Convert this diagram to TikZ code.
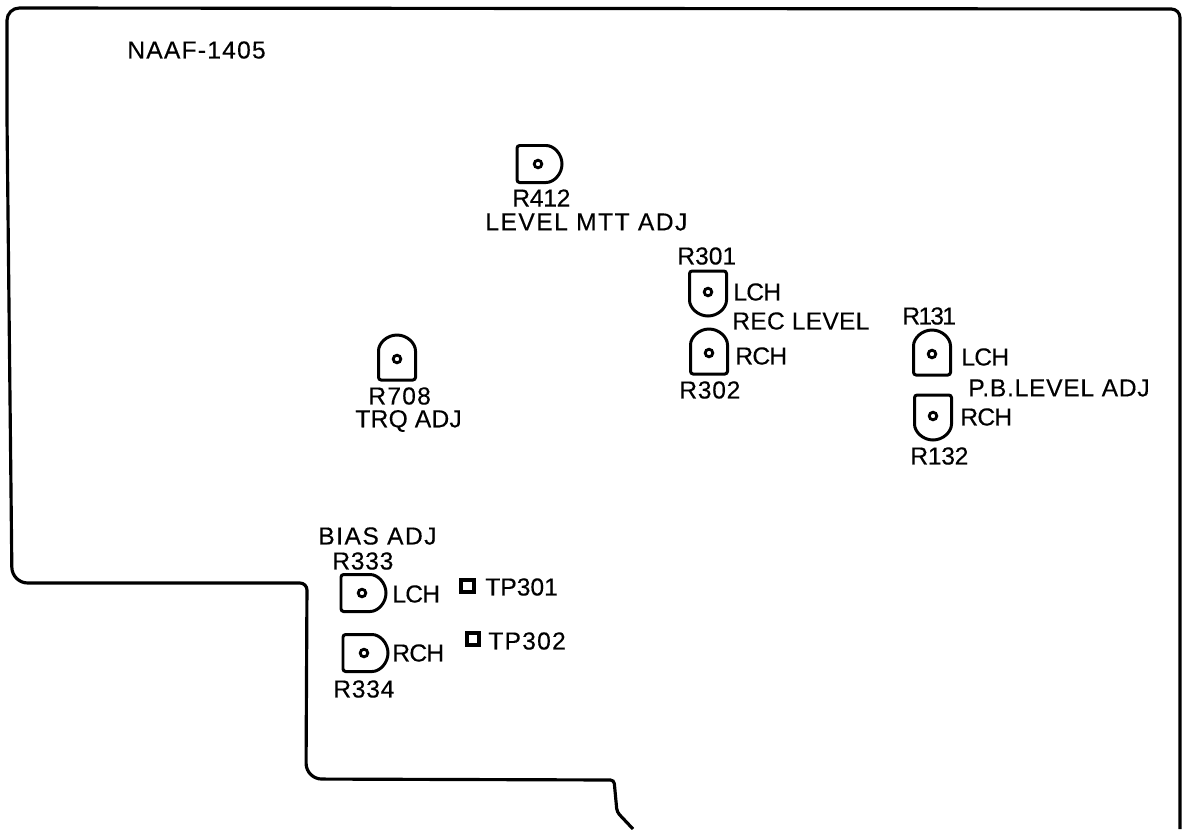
\documentclass[tikz,border=0pt]{standalone}
\usepackage{fontspec}
\setmainfont[FakeBold=0.3]{Liberation Sans}
\usepackage{tikz}
\usetikzlibrary{positioning}

% trimmer body: hole x, hole y, direction of the round end
\newcommand{\trimmer}[3]{
	\begin{scope}[shift={(#1,#2)},rotate=#3]
		\draw[trimline] (-21,-18.5)--(5.5,-18.5) arc[start angle=-90,end angle=90,radius=18.5]--(-21,18.5)--cycle;
		\draw[holeline] (0,0) circle (3.8);
	\end{scope}
}

\tikzset{
	trimline/.style={line width=1.7pt,rounded corners=1.5pt},
	holeline/.style={line width=1.6pt},
	padline/.style={line width=1.9pt},
	lbl/.style={anchor=west,inner sep=0pt,font=\fontsize{14}{16}\selectfont\addfontfeature{LetterSpace=#1}},
	lbl/.default=6
}

\begin{document}
\begin{tikzpicture}[x=0.02cm,y=-0.02cm]
	\useasboundingbox (0,0) rectangle (1182,829);
	% board outline
	\draw[line width=1.8pt,rounded corners=5pt] (1180,829)--(1180,9)
		[rounded corners=7pt]--(7,8)--(7,120)
		[rounded corners=9pt]--(12,583)
		[rounded corners=4pt]--(307,583)
		[rounded corners=9pt]--(306,779)
		[rounded corners=2pt]--(614,780)--(617,812)--(633,829);

	\trimmer{538}{164}{0}
	\trimmer{708}{292}{-90}
	\trimmer{709}{353}{90}
	\trimmer{932}{354}{90}
	\trimmer{933}{416}{-90}
	\trimmer{397}{359}{90}
	\trimmer{362}{593}{0}
	\trimmer{364}{653}{0}

	\draw[padline] (461,580) rectangle (474,592);
	\draw[padline] (467,633) rectangle (479,645);

	\node[lbl=5] (naaf) at (127,50) {NAAF-1405};
	\node[lbl=-1] (r412) at (512,198) {R412};
	\node[lbl] (mtt) at (485,222) {LEVEL MTT ADJ};
	\node[lbl=0] (r301) at (677,256) {R301};
	\node[lbl=-3] (lch1) at (733,292) {LCH};
	\node[lbl=1] (rec) at (732,321) {REC LEVEL};
	\node[lbl=-3] (rch1) at (735,356) {RCH};
	\node[lbl=3] (r302) at (679,390) {R302};
	\node[lbl=-7] (r131) at (902,316) {R131};
	\node[lbl=-3] (lch2) at (961,357) {LCH};
	\node[lbl=3] (pb) at (968,388) {P.B.LEVEL ADJ};
	\node[lbl=-3] (rch2) at (960,417) {RCH};
	\node[lbl=-1] (r132) at (910,456) {R132};
	\node[lbl=5] (r708) at (368,396) {R708};
	\node[lbl=1] (trq) at (355,421) {TRQ ADJ};
	\node[lbl] (bias) at (318,536) {BIAS ADJ};
	\node[lbl=3] (r333) at (332,561) {R333};
	\node[lbl=-3] (lch3) at (392,594) {LCH};
	\node[lbl=-3] (rch3) at (392,653) {RCH};
	\node[lbl=3] (r334) at (333,689) {R334};
	\node[lbl=0] (tp1) at (485,587) {TP301};
	\node[lbl=5] (tp2) at (488,641) {TP302};
\end{tikzpicture}
\end{document}
